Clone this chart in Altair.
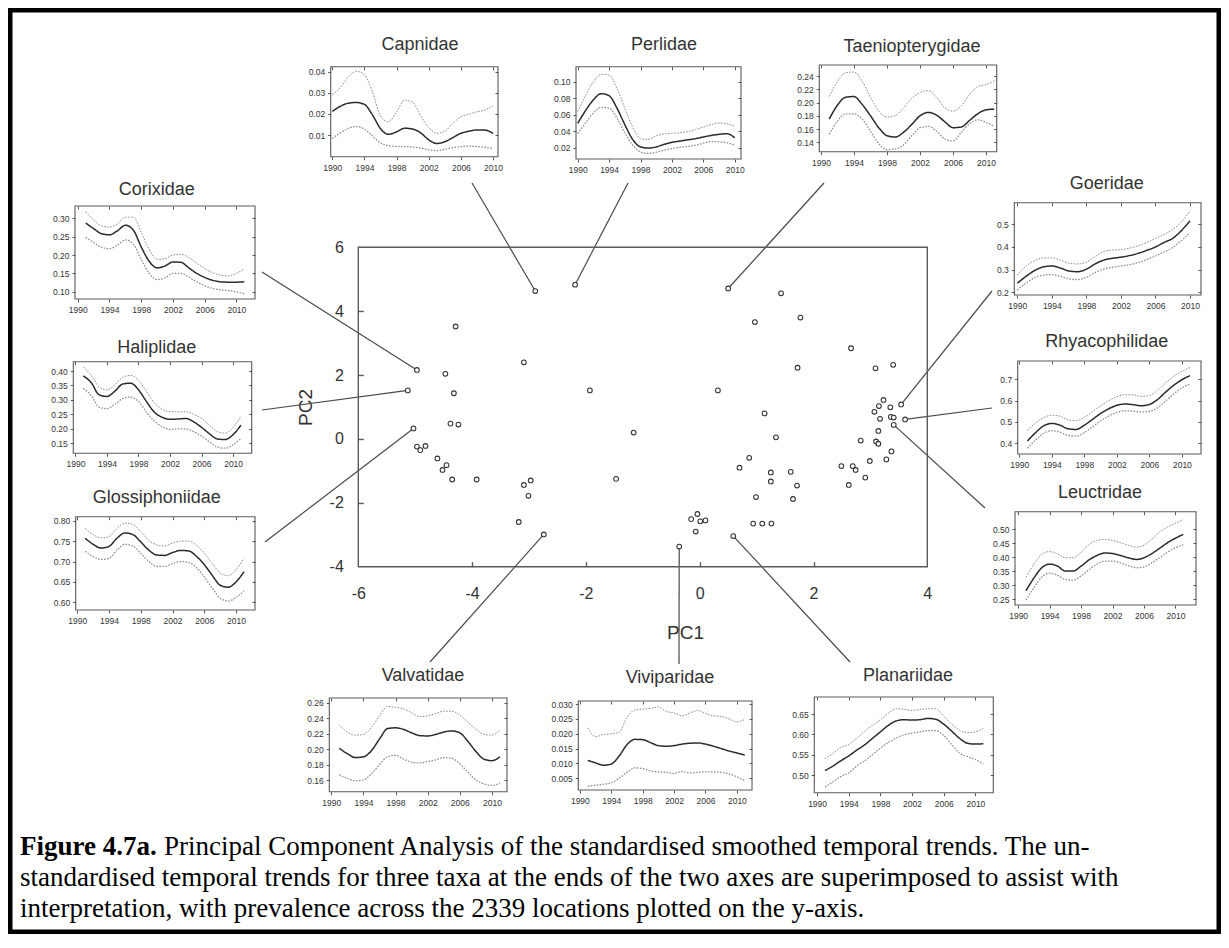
import altair as alt
import pandas as pd

OFF = 8          # page margin: chart origin sits at page (8, 8)
W, H = 1213, 926

# ---------------- scatter of PC scores ----------------
pc1 = [-2.89, -2.19, -4.29, -4.97, -4.47, -3.09, -5.13, -4.32, -1.93, -4.38, -4.24, -5.03,
       -4.97, -4.91, -4.82, -4.61, -4.45, -4.52, -4.35, -3.92, -2.97, -3.09, -3.01, -3.18,
       -2.74, -1.47,
       0.50, 1.43, 0.97, 1.77, 2.66, 3.09, 3.40, 1.72, 0.32, -1.16, 1.14, 1.34, 0.87, 0.70,
       1.25, 1.25, 1.60, 1.71, 0.99, 1.64, 0.94, 1.10, 1.26, 0.59, -0.36, -0.15, -0.04, 0.01,
       0.10, -0.07, 3.23, 3.54, 3.15, 3.07, 3.35, 3.17, 3.36, 3.41, 3.61, 3.41, 3.14, 2.83,
       3.10, 3.14, 3.37, 3.28, 2.99, 2.49, 2.69, 2.74, 2.91, 2.62]
pc2 = [4.63, 4.83, 3.52, 2.16, 2.04, 2.40, 1.52, 1.43, 1.52, 0.48, 0.45, 0.33,
       -0.24, -0.35, -0.22, -0.61, -0.82, -0.97, -1.27, -1.27, -1.30, -1.44, -1.78, -2.60,
       -2.99, -1.25,
       4.71, 4.56, 3.66, 3.80, 2.84, 2.21, 2.32, 2.23, 1.52, 0.20, 0.80, 0.05, -0.59, -0.90,
       -1.05, -1.33, -1.03, -1.46, -1.82, -1.88, -2.65, -2.65, -2.65, -3.04, -3.37, -2.51, -2.35, -2.58,
       -2.55, -2.90, 1.22, 1.08, 1.03, 0.85, 0.99, 0.63, 0.69, 0.67, 0.61, 0.44, 0.25, -0.05,
       -0.08, -0.15, -0.39, -0.64, -0.69, -0.85, -0.85, -0.97, -1.21, -1.44]

# ---------------- small panels: smoothed prevalence (mean, lower, upper) ----------------
capnidae_mean = [0.0212, 0.0236, 0.0251, 0.0254, 0.0245, 0.0195, 0.013, 0.0103, 0.0115, 0.0132, 0.0128,
                 0.011, 0.0077, 0.006, 0.0068, 0.0088, 0.0108, 0.0118, 0.0124, 0.0123, 0.0108]
capnidae_upper = [0.029, 0.0325, 0.0375, 0.0402, 0.0385, 0.0305, 0.019, 0.0162, 0.021, 0.0265, 0.0255,
                  0.019, 0.0135, 0.0108, 0.0118, 0.0155, 0.0187, 0.0198, 0.021, 0.0218, 0.0238]
capnidae_lower = [0.0084, 0.011, 0.0132, 0.014, 0.0128, 0.0095, 0.0062, 0.005, 0.0046, 0.0045, 0.0043,
                  0.0038, 0.003, 0.0026, 0.0032, 0.004, 0.0045, 0.0047, 0.0045, 0.0042, 0.0035]

perlidae_mean = [0.0495, 0.065, 0.078, 0.0855, 0.083, 0.068, 0.048, 0.030, 0.021, 0.0195, 0.021,
                 0.024, 0.0265, 0.028, 0.0295, 0.031, 0.033, 0.0348, 0.0362, 0.037, 0.032]
perlidae_upper = [0.064, 0.083, 0.100, 0.109, 0.108, 0.092, 0.068, 0.045, 0.031, 0.030, 0.0345,
                  0.0365, 0.0375, 0.038, 0.0395, 0.042, 0.045, 0.048, 0.050, 0.049, 0.046]
perlidae_lower = [0.037, 0.050, 0.062, 0.069, 0.068, 0.056, 0.038, 0.023, 0.015, 0.013, 0.0145,
                  0.017, 0.019, 0.0205, 0.0215, 0.023, 0.0255, 0.0275, 0.027, 0.026, 0.023]

taenio_mean = [0.175, 0.196, 0.208, 0.209, 0.197, 0.180, 0.162, 0.150, 0.148, 0.155, 0.167,
               0.180, 0.185, 0.181, 0.171, 0.162, 0.163, 0.173, 0.183, 0.189, 0.190]
taenio_upper = [0.209, 0.232, 0.245, 0.246, 0.232, 0.208, 0.187, 0.178, 0.180, 0.192, 0.206,
                0.215, 0.218, 0.208, 0.192, 0.187, 0.195, 0.212, 0.224, 0.227, 0.233]
taenio_lower = [0.152, 0.172, 0.183, 0.183, 0.175, 0.157, 0.138, 0.129, 0.130, 0.136, 0.150,
                0.162, 0.164, 0.157, 0.145, 0.142, 0.155, 0.168, 0.174, 0.170, 0.164]

corixidae_mean = [0.287, 0.272, 0.258, 0.255, 0.266, 0.281, 0.268, 0.222, 0.183, 0.165, 0.170,
                  0.181, 0.180, 0.165, 0.150, 0.139, 0.131, 0.127, 0.126, 0.126, 0.127]
corixidae_upper = [0.318, 0.295, 0.279, 0.276, 0.285, 0.303, 0.303, 0.262, 0.215, 0.188, 0.190,
                   0.200, 0.202, 0.193, 0.178, 0.163, 0.152, 0.145, 0.143, 0.150, 0.162]
corixidae_lower = [0.248, 0.234, 0.221, 0.217, 0.227, 0.241, 0.230, 0.188, 0.150, 0.133, 0.138,
                   0.150, 0.150, 0.140, 0.127, 0.116, 0.109, 0.105, 0.103, 0.100, 0.094]

haliplidae_mean = [0.383, 0.36, 0.318, 0.312, 0.33, 0.355, 0.358, 0.335, 0.295, 0.258, 0.24,
                   0.233, 0.234, 0.236, 0.224, 0.205, 0.183, 0.165, 0.163, 0.18, 0.213]
haliplidae_upper = [0.415, 0.385, 0.345, 0.335, 0.352, 0.378, 0.385, 0.368, 0.33, 0.29, 0.268,
                    0.259, 0.259, 0.259, 0.25, 0.236, 0.213, 0.19, 0.185, 0.205, 0.244]
haliplidae_lower = [0.34, 0.315, 0.275, 0.27, 0.285, 0.305, 0.31, 0.295, 0.258, 0.227, 0.208,
                    0.198, 0.2, 0.2, 0.19, 0.175, 0.155, 0.137, 0.133, 0.145, 0.167]

glossi_mean = [0.757, 0.742, 0.733, 0.737, 0.757, 0.770, 0.766, 0.748, 0.728, 0.716, 0.715,
               0.722, 0.727, 0.726, 0.713, 0.692, 0.666, 0.642, 0.637, 0.650, 0.675]
glossi_upper = [0.781, 0.766, 0.758, 0.761, 0.781, 0.794, 0.791, 0.773, 0.752, 0.741, 0.738,
                0.745, 0.750, 0.750, 0.740, 0.720, 0.695, 0.672, 0.665, 0.680, 0.708]
glossi_lower = [0.725, 0.712, 0.705, 0.708, 0.728, 0.742, 0.738, 0.720, 0.700, 0.688, 0.688,
                0.695, 0.700, 0.698, 0.685, 0.662, 0.635, 0.610, 0.603, 0.612, 0.628]

goeridae_mean = [0.24, 0.27, 0.296, 0.312, 0.316, 0.307, 0.294, 0.291, 0.302, 0.325, 0.342,
                 0.35, 0.355, 0.362, 0.372, 0.385, 0.40, 0.42, 0.438, 0.472, 0.515]
goeridae_upper = [0.276, 0.315, 0.34, 0.351, 0.352, 0.342, 0.328, 0.325, 0.333, 0.358, 0.38,
                  0.386, 0.388, 0.395, 0.405, 0.42, 0.438, 0.455, 0.478, 0.51, 0.56]
goeridae_lower = [0.21, 0.24, 0.265, 0.276, 0.278, 0.27, 0.259, 0.256, 0.266, 0.287, 0.302,
                  0.31, 0.316, 0.322, 0.331, 0.345, 0.36, 0.378, 0.398, 0.428, 0.463]

rhyaco_mean = [0.411, 0.45, 0.482, 0.493, 0.485, 0.468, 0.465, 0.485, 0.512, 0.54, 0.562,
               0.578, 0.584, 0.581, 0.576, 0.582, 0.605, 0.64, 0.672, 0.698, 0.717]
rhyaco_upper = [0.46, 0.495, 0.52, 0.532, 0.527, 0.51, 0.506, 0.522, 0.548, 0.575, 0.6,
                0.618, 0.628, 0.627, 0.62, 0.625, 0.648, 0.683, 0.715, 0.737, 0.755]
rhyaco_lower = [0.377, 0.415, 0.447, 0.459, 0.452, 0.437, 0.434, 0.45, 0.477, 0.506, 0.528,
                0.545, 0.552, 0.551, 0.547, 0.55, 0.566, 0.598, 0.632, 0.66, 0.678]

leuctridae_mean = [0.28, 0.325, 0.362, 0.375, 0.368, 0.35, 0.35, 0.368, 0.39, 0.406, 0.415,
                   0.413, 0.406, 0.398, 0.392, 0.398, 0.413, 0.432, 0.452, 0.468, 0.482]
leuctridae_upper = [0.328, 0.375, 0.41, 0.42, 0.412, 0.398, 0.398, 0.418, 0.445, 0.46, 0.464,
                    0.46, 0.452, 0.443, 0.436, 0.443, 0.465, 0.49, 0.508, 0.522, 0.534]
leuctridae_lower = [0.246, 0.29, 0.328, 0.343, 0.335, 0.32, 0.318, 0.333, 0.355, 0.374, 0.386,
                    0.386, 0.38, 0.37, 0.362, 0.365, 0.38, 0.398, 0.418, 0.433, 0.445]

valvatidae_mean = [0.201, 0.194, 0.189, 0.190, 0.198, 0.213, 0.2265, 0.2275, 0.2255, 0.221, 0.2175,
                   0.217, 0.219, 0.222, 0.2235, 0.221, 0.21, 0.197, 0.187, 0.185, 0.19]
valvatidae_upper = [0.231, 0.222, 0.218, 0.219, 0.228, 0.243, 0.255, 0.254, 0.252, 0.247, 0.242,
                    0.243, 0.246, 0.249, 0.249, 0.244, 0.235, 0.226, 0.219, 0.218, 0.225]
valvatidae_lower = [0.167, 0.162, 0.159, 0.160, 0.168, 0.18, 0.19, 0.192, 0.187, 0.183, 0.182,
                    0.184, 0.186, 0.189, 0.188, 0.181, 0.17, 0.16, 0.155, 0.153, 0.156]

viviparidae_mean = [0.011, 0.0102, 0.0094, 0.0098, 0.0125, 0.0163, 0.0181, 0.018, 0.017, 0.016, 0.0158,
                    0.016, 0.0165, 0.0168, 0.0169, 0.0165, 0.0158, 0.015, 0.0142, 0.0135, 0.0128]
viviparidae_upper = [0.022, 0.019, 0.0197, 0.020, 0.0205, 0.0255, 0.028, 0.0283, 0.0285, 0.029, 0.0275,
                     0.027, 0.026, 0.027, 0.0278, 0.0268, 0.026, 0.0258, 0.025, 0.024, 0.0248]
viviparidae_lower = [0.0023, 0.0027, 0.003, 0.0035, 0.005, 0.007, 0.0085, 0.0083, 0.0075, 0.0072, 0.007,
                     0.0066, 0.0073, 0.0068, 0.007, 0.0072, 0.0072, 0.007, 0.0065, 0.0055, 0.0042]

planariidae_mean = [0.511, 0.522, 0.535, 0.547, 0.561, 0.574, 0.59, 0.606, 0.622, 0.633, 0.636,
                    0.635, 0.636, 0.639, 0.637, 0.625, 0.608, 0.59, 0.578, 0.576, 0.577]
planariidae_upper = [0.54, 0.553, 0.568, 0.575, 0.59, 0.607, 0.622, 0.636, 0.652, 0.663, 0.661,
                     0.659, 0.661, 0.663, 0.663, 0.645, 0.625, 0.61, 0.604, 0.606, 0.615]
planariidae_lower = [0.47, 0.483, 0.496, 0.505, 0.522, 0.535, 0.55, 0.566, 0.58, 0.591, 0.599,
                     0.603, 0.606, 0.609, 0.609, 0.597, 0.575, 0.554, 0.545, 0.538, 0.527]

# name, first year, mean, lower, upper, y tick values, tick format
PANELS = [
    ("Capnidae", 1990, capnidae_mean, capnidae_lower, capnidae_upper, [0.01, 0.02, 0.03, 0.04], ".2f"),
    ("Perlidae", 1990, perlidae_mean, perlidae_lower, perlidae_upper, [0.02, 0.04, 0.06, 0.08, 0.10], ".2f"),
    ("Taeniopterygidae", 1991, taenio_mean, taenio_lower, taenio_upper, [0.14, 0.16, 0.18, 0.20, 0.22, 0.24], ".2f"),
    ("Corixidae", 1991, corixidae_mean, corixidae_lower, corixidae_upper, [0.10, 0.15, 0.20, 0.25, 0.30], ".2f"),
    ("Haliplidae", 1991, haliplidae_mean, haliplidae_lower, haliplidae_upper, [0.15, 0.20, 0.25, 0.30, 0.35, 0.40], ".2f"),
    ("Glossiphoniidae", 1991, glossi_mean, glossi_lower, glossi_upper, [0.60, 0.65, 0.70, 0.75, 0.80], ".2f"),
    ("Goeridae", 1990, goeridae_mean, goeridae_lower, goeridae_upper, [0.2, 0.3, 0.4, 0.5], ".1f"),
    ("Rhyacophilidae", 1991, rhyaco_mean, rhyaco_lower, rhyaco_upper, [0.4, 0.5, 0.6, 0.7], ".1f"),
    ("Leuctridae", 1991, leuctridae_mean, leuctridae_lower, leuctridae_upper, [0.25, 0.30, 0.35, 0.40, 0.45, 0.50], ".2f"),
    ("Valvatidae", 1991, valvatidae_mean, valvatidae_lower, valvatidae_upper, [0.16, 0.18, 0.20, 0.22, 0.24, 0.26], ".2f"),
    ("Viviparidae", 1991, viviparidae_mean, viviparidae_lower, viviparidae_upper, [0.005, 0.010, 0.015, 0.020, 0.025, 0.030], ".3f"),
    ("Planariidae", 1991, planariidae_mean, planariidae_lower, planariidae_upper, [0.50, 0.55, 0.60, 0.65], ".2f"),
]
year_ticks = [1990, 1994, 1998, 2002, 2006, 2010]

# connector: taxon -> (PC1, PC2) of the point it is attached to
CONNECT = {
    "Capnidae": (-2.89, 4.63), "Perlidae": (-2.19, 4.83), "Taeniopterygidae": (0.50, 4.71),
    "Corixidae": (-4.97, 2.16), "Haliplidae": (-5.13, 1.52), "Glossiphoniidae": (-5.03, 0.33),
    "Goeridae": (3.54, 1.08), "Rhyacophilidae": (3.61, 0.61), "Leuctridae": (3.41, 0.44),
    "Valvatidae": (-2.74, -2.99), "Viviparidae": (-0.36, -3.37), "Planariidae": (0.59, -3.04),
}

caption_bold = "Figure 4.7a."
caption_lines = [
    "Principal Component Analysis of the standardised smoothed temporal trends. The un-",
    "standardised temporal trends for three taxa at the ends of the two axes are superimposed to assist with",
    "interpretation, with prevalence across the 2339 locations plotted on the y-axis.",
]

# ---------------- layout (page pixels) ----------------
MAIN_BOX = (358.3, 247.3, 927.3, 566.7)     # left, top, right, bottom
PC1_POS = (685, 632)
PC2_POS = (305, 407)
LAYOUT = {
    # box, curve start/end x, (v1, y1, v2, y2) tick reference, title centre, connector anchor
    "Capnidae":        dict(box=(330.7, 66.7, 498, 156.7), cx=(331.3, 493), yref=(0.04, 71.7, 0.01, 135), title=(420, 45), anchor=(472, 183)),
    "Perlidae":        dict(box=(576, 66.7, 741, 159), cx=(577.7, 734.7), yref=(0.10, 81.7, 0.02, 147.7), title=(664, 45), anchor=(628, 183)),
    "Taeniopterygidae": dict(box=(819.3, 65, 996.7, 151.7), cx=(827.7, 994.3), yref=(0.24, 76, 0.14, 142.3), title=(912, 46.7), anchor=(824, 183)),
    "Corixidae":       dict(box=(75, 206, 255, 299), cx=(85.7, 244.3), yref=(0.30, 218.3, 0.10, 291.7), title=(156.7, 190), anchor=(262, 272)),
    "Haliplidae":      dict(box=(73.3, 361.7, 251.7, 453.3), cx=(83.3, 241), yref=(0.40, 371, 0.15, 443.3), title=(156.7, 347.7), anchor=(262, 410)),
    "Glossiphoniidae": dict(box=(75.7, 516.7, 255, 610), cx=(85, 244), yref=(0.80, 520.7, 0.60, 602.3), title=(156.7, 498.3), anchor=(265, 542)),
    "Goeridae":        dict(box=(1014.3, 202.7, 1201, 295), cx=(1017.3, 1190), yref=(0.5, 224.3, 0.2, 292.3), title=(1106.7, 184), anchor=(992, 291)),
    "Rhyacophilidae":  dict(box=(1017.7, 361, 1201, 454), cx=(1027.3, 1190), yref=(0.7, 379.3, 0.4, 443.3), title=(1106.7, 341.7), anchor=(992, 408)),
    "Leuctridae":      dict(box=(1015, 511.7, 1196, 605), cx=(1026, 1183.3), yref=(0.50, 529.3, 0.25, 599), title=(1100, 493.3), anchor=(985, 508)),
    "Valvatidae":      dict(box=(329.3, 698, 507, 791.7), cx=(339.3, 500), yref=(0.26, 702.7, 0.16, 780), title=(423, 676), anchor=(430, 662)),
    "Viviparidae":     dict(box=(578.3, 701, 752, 790), cx=(586.7, 744.7), yref=(0.030, 704, 0.005, 778.3), title=(670, 678), anchor=(679, 664)),
    "Planariidae":     dict(box=(814.3, 697, 993.3, 792.7), cx=(825, 983.3), yref=(0.65, 714, 0.50, 775), title=(908, 676), anchor=(850, 662)),
}
CAPTION_X = 20
CAPTION_Y = [847, 878, 909]
CAPTION_SIZE = 27
BOLD_EM = 5.083          # width of the bold lead-in in em (Times metrics)

FONT = "Liberation Sans"
SERIF = "Liberation Serif"
TXT = "#333333"
AXC = "#555555"
FRAME = "#5a5a5a"

KINDS = ["mean", "lower", "upper"]
kind_color = alt.Scale(domain=KINDS, range=["#2a2a2a", "#8c8c8c", "#8c8c8c"])
kind_dash = alt.Scale(domain=KINDS, range=[[1, 0], [1.6, 1.4], [1.6, 1.4]])
kind_width = alt.Scale(domain=KINDS, range=[1.5, 1.0, 1.0])

one = pd.DataFrame({"k": [0]})


def small_axis(**kw):
    base = dict(grid=False, title=None, labelFont=FONT, labelFontSize=8.5, labelColor=TXT,
                tickColor=AXC, tickWidth=1, tickSize=3, labelPadding=3, labelFlush=False,
                labelOverlap=False, domain=False)
    base.update(kw)
    return alt.Axis(**base)


layers = []

# ---------------- main PCA panel ----------------
ML, MT, MR, MB = [v - OFF for v in MAIN_BOX]
mxs = alt.Scale(domain=[-6, 4], range=[ML, MR], nice=False, zero=False)
mys = alt.Scale(domain=[-4, 6], range=[MB, MT], nice=False, zero=False)


def px_to_pc(px, py):
    x = -6 + (px - OFF - ML) / (MR - ML) * 10
    y = -4 + (MB - (py - OFF)) / (MB - MT) * 10
    return x, y


conn_rows = []
for name, (cx_, cy_) in CONNECT.items():
    ax_, ay_ = px_to_pc(*LAYOUT[name]["anchor"])
    conn_rows.append({"x1": cx_, "y1": cy_, "x2": ax_, "y2": ay_})
conn_df = pd.DataFrame(conn_rows)

layers.append(
    alt.Chart(conn_df).mark_rule(color="#4a4a4a", strokeWidth=1.2).encode(
        x=alt.X("x1:Q", scale=mxs, axis=None),
        y=alt.Y("y1:Q", scale=mys, axis=None),
        x2="x2:Q", y2="y2:Q",
    )
)

layers.append(
    alt.Chart(one).mark_rect(fillOpacity=0, stroke=FRAME, strokeWidth=1.4).encode(
        x=alt.XDatum(-6, type="quantitative", scale=mxs,
                     axis=alt.Axis(orient="top", offset=-MB, values=[-4, -2, 0, 2], labels=False,
                                   domain=False, grid=False, tickSize=5, tickColor=FRAME,
                                   tickWidth=1.4, title=None)),
        x2=alt.X2Datum(4),
        y=alt.YDatum(-4, type="quantitative", scale=mys,
                     axis=alt.Axis(orient="right", offset=ML - W, values=[-2, 0, 2, 4], labels=False,
                                   domain=False, grid=False, tickSize=5, tickColor=FRAME,
                                   tickWidth=1.4, title=None)),
        y2=alt.Y2Datum(6),
    )
)

scatter_df = pd.DataFrame({"pc1": pc1, "pc2": pc2})
layers.append(
    alt.Chart(scatter_df).mark_point(shape="circle", filled=True, fill="white", stroke="#333333",
                                     strokeWidth=1.1, size=22, opacity=1).encode(
        x=alt.X("pc1:Q", scale=mxs,
                axis=alt.Axis(orient="bottom", offset=MB - H, values=[-6, -4, -2, 0, 2, 4],
                              labelExpr="datum.value + ''", ticks=False, tickSize=0, domain=False,
                              grid=False, labelFont=FONT, labelFontSize=16, labelColor=TXT,
                              labelPadding=19, labelFlush=False, labelOverlap=False,
                              title="PC1", titleFont=FONT, titleFontSize=19, titleColor=TXT,
                              titleFontWeight="normal", titleX=PC1_POS[0] - OFF,
                              titleY=PC1_POS[1] - OFF - MB, titleAlign="center",
                              titleBaseline="middle")),
        y=alt.Y("pc2:Q", scale=mys,
                axis=alt.Axis(orient="left", offset=-ML, values=[-4, -2, 0, 2, 4, 6],
                              labelExpr="datum.value + ''", ticks=False, tickSize=0, domain=False,
                              grid=False, labelFont=FONT, labelFontSize=16, labelColor=TXT,
                              labelPadding=15, labelFlush=False, labelOverlap=False,
                              title="PC2", titleFont=FONT, titleFontSize=19, titleColor=TXT,
                              titleFontWeight="normal", titleAngle=270,
                              titleX=PC2_POS[0] - OFF - ML, titleY=PC2_POS[1] - OFF,
                              titleAlign="center", titleBaseline="middle")),
    )
)

# ---------------- small trend panels ----------------
title_rows = []
for name, first, mean, lower, upper, yticks, fmt in PANELS:
    lay = LAYOUT[name]
    L, T, R, B = [v - OFF for v in lay["box"]]
    cs, ce = [v - OFF for v in lay["cx"]]
    n = len(mean)
    ppy = (ce - cs) / (n - 1)
    d0 = min(first - (cs - L) / ppy, 1989.8)
    d1 = max(first + (n - 1) + (R - ce) / ppy, 2010.2)
    v1, p1, v2, p2 = lay["yref"]
    p1 -= OFF
    p2 -= OFF
    s = (v2 - v1) / (p2 - p1)
    lo = v1 + (B - p1) * s
    hi = v1 + (T - p1) * s
    xs = alt.Scale(domain=[d0, d1], range=[L, R], nice=False, zero=False)
    ys = alt.Scale(domain=[lo, hi], range=[B, T], nice=False, zero=False)

    yrs = list(range(first, first + n))
    df = pd.DataFrame({
        "year": yrs * 3,
        "value": list(mean) + list(lower) + list(upper),
        "kind": ["mean"] * n + ["lower"] * n + ["upper"] * n,
    })
    layers.append(
        alt.Chart(df).mark_line(interpolate="monotone").encode(
            x=alt.X("year:Q", scale=xs,
                    axis=small_axis(orient="bottom", offset=B - H, values=year_ticks, format="d",
                                    labelPadding=3.5)),
            y=alt.Y("value:Q", scale=ys,
                    axis=small_axis(orient="left", offset=-L, values=yticks, format=fmt,
                                    labelPadding=3)),
            detail="kind:N",
            color=alt.Color("kind:N", scale=kind_color, legend=None),
            strokeDash=alt.StrokeDash("kind:N", scale=kind_dash, legend=None),
            strokeWidth=alt.StrokeWidth("kind:N", scale=kind_width, legend=None),
        )
    )
    layers.append(
        alt.Chart(one).mark_rect(fillOpacity=0, stroke=FRAME, strokeWidth=1.1).encode(
            x=alt.XDatum(d0, type="quantitative", scale=xs,
                         axis=small_axis(orient="bottom", offset=T - H, values=year_ticks,
                                         labels=False)),
            x2=alt.X2Datum(d1),
            y=alt.YDatum(lo, type="quantitative", scale=ys,
                         axis=small_axis(orient="left", offset=-R, values=yticks, labels=False)),
            y2=alt.Y2Datum(hi),
        )
    )
    title_rows.append({"name": name, "tx": lay["title"][0] - OFF, "ty": lay["title"][1] - OFF})

titles_df = pd.DataFrame(title_rows)
layers.append(
    alt.Chart(titles_df).mark_text(font=FONT, fontSize=18, color=TXT, baseline="middle",
                                   align="center").encode(
        x=alt.X("tx:Q", scale=None, axis=None),
        y=alt.Y("ty:Q", scale=None, axis=None),
        text="name:N",
    )
)

# ---------------- caption ----------------
layers.append(
    alt.Chart(one).mark_text(font=SERIF, fontSize=CAPTION_SIZE, fontWeight="bold", color="black",
                             align="left", baseline="middle").encode(
        x=alt.value(CAPTION_X - OFF), y=alt.value(CAPTION_Y[0] - OFF), text=alt.value(caption_bold))
)
for i, line in enumerate(caption_lines):
    x0 = CAPTION_X + ((BOLD_EM + 0.25) * CAPTION_SIZE if i == 0 else 0)
    layers.append(
        alt.Chart(one).mark_text(font=SERIF, fontSize=CAPTION_SIZE, color="black", align="left",
                                 baseline="middle").encode(
            x=alt.value(x0 - OFF), y=alt.value(CAPTION_Y[i] - OFF), text=alt.value(line))
    )

chart = (
    alt.layer(*layers)
    .resolve_scale(x="independent", y="independent")
    .properties(width=W, height=H, autosize=alt.AutoSizeParams(type="none"), padding=0)
    .configure_view(stroke="black", strokeWidth=9)
    .configure_axis(grid=False)
)

chart.save("out.html", embed_options={"renderer": "svg", "actions": False})
